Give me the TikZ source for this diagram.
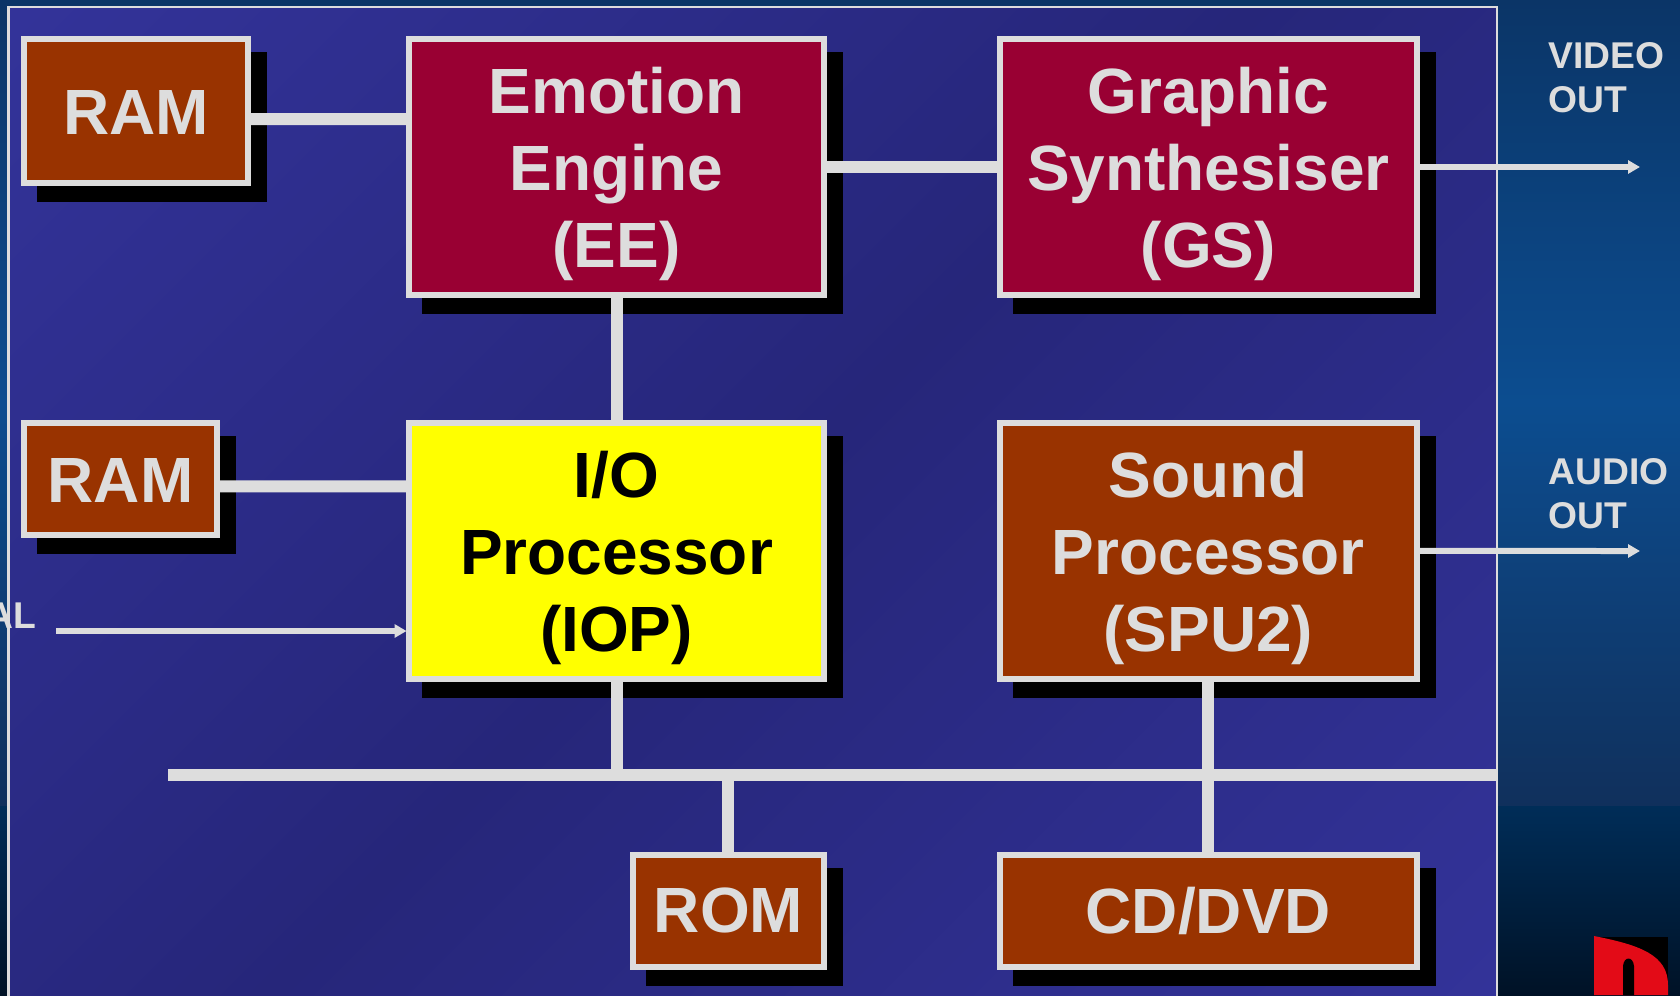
\documentclass[tikz,border=0pt]{standalone}
\usepackage{fontspec}
\setmainfont{Liberation Sans}
\usepackage{xcolor}
\usetikzlibrary{arrows.meta, positioning, shadows}
\definecolor{wirecol}{HTML}{DDDDDD}
\definecolor{brickcol}{HTML}{993300}
\definecolor{winecol}{HTML}{990033}
\definecolor{iocol}{HTML}{FFFF00}
\definecolor{panelhi}{HTML}{333399}
\definecolor{panellow}{HTML}{26267A}
\definecolor{backtop}{HTML}{0B3567}
\definecolor{backmid}{HTML}{0C4D90}
\definecolor{backlow}{HTML}{10305C}
\definecolor{backdeep}{HTML}{002D58}
\definecolor{backend}{HTML}{001226}
\definecolor{logocol}{HTML}{E30B17}
\pgfdeclareverticalshading{panelfade}{100bp}{color(0bp)=(panelhi); color(15bp)=(panelhi); color(50bp)=(panellow); color(85bp)=(panelhi); color(100bp)=(panelhi)}
\newcommand{\lifted}[1]{\rule{0pt}{#1}}
\begin{document}
\begin{tikzpicture}[
    x=0.02cm, y=-0.02cm,
    chip/.style={rectangle, draw=wirecol, line width=0.12cm, outer sep=0pt, inner sep=0pt,
                 align=center, text=wirecol,
                 font=\fontsize{36.4}{43.8}\selectfont\bfseries,
                 drop shadow={shadow xshift=0.32cm, shadow yshift=-0.32cm, opacity=1, fill=black, draw=black}},
    core/.style={chip, fill=winecol, minimum height=5.12cm},
    mem/.style={chip, fill=brickcol},
    iobox/.style={chip, fill=iocol, text=black, minimum width=8.3cm, minimum height=5.12cm},
    bus/.style={draw=wirecol, line width=0.24cm},
    feed/.style={draw=wirecol, line width=0.12cm, -{Triangle[length=0.24cm, width=0.26cm]}},
    portlbl/.style={text=wirecol, align=left, anchor=west, inner sep=0pt,
                    font=\fontsize{21.2}{25}\selectfont\bfseries}
]
  \useasboundingbox (0,0) rectangle (1680,995);

  % backdrop
  \shade[top color=backtop, bottom color=backlow, middle color=backmid] (0,0) rectangle (1680,806);
  \shade[top color=backdeep, bottom color=backend] (0,806) rectangle (1680,995);
  \shade[shading=panelfade, shading angle=45, draw=wirecol, line width=0.05cm] (8.5,7) rectangle (1497,1010);

  % logo corner
  \fill[black] (1594,937) rectangle (1668,995);
  \fill[logocol] (1594,936) .. controls (1640,945) and (1668,955) .. (1668,985)
       -- (1668,995) -- (1594,995) -- cycle;
  \fill[black] (1623,995) -- (1623,966) .. controls (1624,956) and (1633,956) .. (1634,966) -- (1634,995) -- cycle;

  \node[core, minimum width=8.3cm] (ee) at (616.5,167) {\lifted{1.22cm}Emotion\\Engine\\(EE)};
  \node[core, minimum width=8.34cm, right=3.52cm of ee] (gs) {\lifted{1.22cm}Graphic\\Synthesiser\\(GS)};
  \node[iobox, below=2.56cm of ee] (iop) {\lifted{1.22cm}I/O\\Processor\\(IOP)};
  \node[mem, minimum width=8.34cm, minimum height=5.12cm, below=2.56cm of gs] (spu) {\lifted{1.22cm}Sound\\Processor\\(SPU2)};

  \node[mem, minimum width=4.48cm, minimum height=2.88cm, below left=0cm and 3.22cm of ee.north west] (ramee) {\lifted{0.94cm}RAM};
  \node[mem, minimum width=3.86cm, minimum height=2.24cm, below left=0cm and 3.84cm of iop.north west] (ramiop) {\lifted{0.94cm}RAM};
  \node[mem, minimum width=3.82cm, minimum height=2.24cm, below left=3.52cm and 0cm of iop.south east] (rom) {ROM};
  \node[mem, minimum width=8.34cm, minimum height=2.24cm, below=3.52cm of spu] (cd) {CD/DVD};

  \coordinate (busleft) at (168,775);
  \coordinate (busright) at (1497,775);
  \coordinate (videoend) at (1640,167);
  \coordinate (audioend) at (1640,551);
  \coordinate (serialstart) at (56,631);

  \draw[bus] ([yshift=-0.16cm]ramee.east) -- ([yshift=0.96cm]ee.west);
  \draw[bus] ([yshift=-0.15cm]ramiop.east) -- ([yshift=1.29cm]iop.west);
  \draw[bus] (ee) -- (gs);
  \draw[bus] (ee) -- (iop);
  \draw[bus] (busleft) -- (busright);
  \draw[bus] (iop.south) -- (iop.south |- busleft);
  \draw[bus] (rom.north) -- (rom.north |- busleft);
  \draw[bus] (spu.south) -- (cd.north);

  \draw[feed] (gs.east) -- (videoend);
  \draw[feed] (spu.east) -- (audioend);
  \draw[feed, shorten >=0.05cm] (serialstart) -- (serialstart -| iop.west);

  \node[portlbl] (videolbl) at (1548,78) {VIDEO\\OUT};
  \node[portlbl] (audiolbl) at (1548,494) {AUDIO\\OUT};
  \node[portlbl, anchor=base east] (seriallbl) at (37,628) {AL};
\end{tikzpicture}
\end{document}
